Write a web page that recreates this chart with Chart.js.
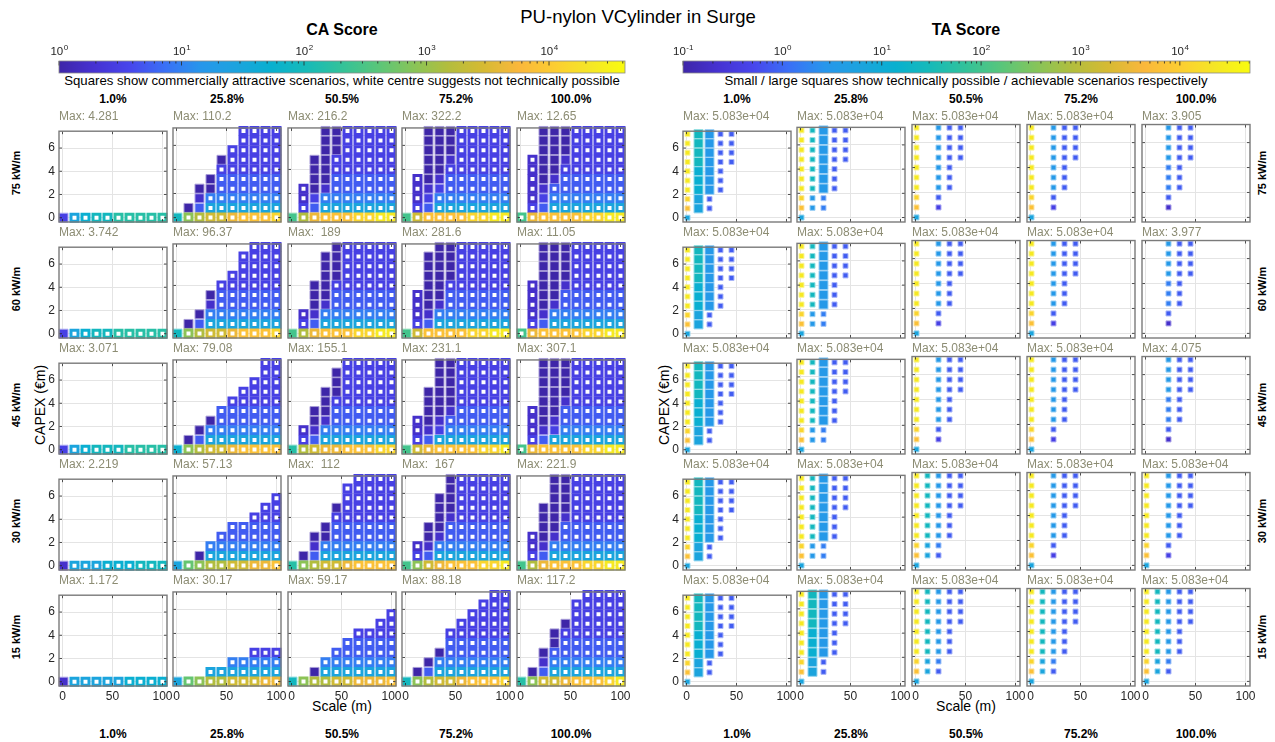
<!DOCTYPE html>
<html>
<head>
<meta charset="utf-8">
<title>PU-nylon VCylinder in Surge</title>
<script src="https://cdn.jsdelivr.net/npm/chart.js@4.4.1/dist/chart.umd.min.js"></script>
<style>
  html, body { margin: 0; padding: 0; background: #fff; }
  body { position: relative; width: 1275px; height: 742px; overflow: hidden;
         font-family: "Liberation Sans", Arial, Helvetica, sans-serif; color: #000; }
  canvas { position: absolute; }
  .lbl { position: absolute; white-space: pre; line-height: 1; }
</style>
</head>
<body>
<script>
// ── Data ────────────────────────────────────────────────────────────────
const figTitle = 'PU-nylon VCylinder in Surge';
const groupTitles = ['CA Score', 'TA Score'];
const captions = [
  'Squares show commercially attractive scenarios, white centre suggests not technically possible',
  'Small / large squares show technically possible / achievable scenarios respectively'
];
const shareLabels = ['1.0%', '25.8%', '50.5%', '75.2%', '100.0%'];
const powerLabels = ['75 kW/m', '60 kW/m', '45 kW/m', '30 kW/m', '15 kW/m'];
const scaleX = [1, 12, 23, 34, 45, 56, 67, 78, 89, 100];
const capexY = [0, 0.8, 1.6, 2.4, 3.2, 4.0, 4.8, 5.6, 6.4, 7.2];
const xTicks = [0, 50, 100];
const yTicks = [0, 2, 4, 6];
const caBarRange = [1, 41700];
const caBarDecades = [0, 1, 2, 3, 4];
const taBarRange = [0.1, 50830];
const taBarDecades = [-1, 0, 1, 2, 3, 4];

// "Max:" annotations, row by row (75 → 15 kW/m), column by column (1.0% → 100.0%)
const caMax = [
  '4.281', '110.2', '216.2', '322.2', '12.65',
  '3.742', '96.37', ' 189', '281.6', '11.05',
  '3.071', '79.08', '155.1', '231.1', '307.1',
  '2.219', '57.13', ' 112', ' 167', '221.9',
  '1.172', '30.17', '59.17', '88.18', '117.2'
];
const taMax = [
  '5.083e+04', '5.083e+04', '5.083e+04', '5.083e+04', '3.905',
  '5.083e+04', '5.083e+04', '5.083e+04', '5.083e+04', '3.977',
  '5.083e+04', '5.083e+04', '5.083e+04', '5.083e+04', '4.075',
  '5.083e+04', '5.083e+04', '5.083e+04', '5.083e+04', '5.083e+04',
  '5.083e+04', '5.083e+04', '5.083e+04', '5.083e+04', '5.083e+04'
];

// Cells: rows from CAPEX 7.2 (top) down to 0, separated by '|', one char per scale column.
// '.' none, letter a..t = colour level 0..19 on the colormap.
// CA: upper case = filled square, lower case = hollow square.
// TA: upper case = large square, lower case = small square.
const caCells = [
  '|||||||||Cghiijjjjj',
  '......cccc|......cccc|.....ccccc|....Accccc|....cccccc|...Adddddd|..AAdddddd|..Beeeeeee|.ADggggggg|Imnoopqqqr',
  '...AAccccc|...AAccccc|...AAccccc|..AAcccccc|..AAcccccc|..AAdddddd|.bABdddddd|.bCeeeeeee|.cDggggggg|Knpqqqrrss',
  '..AAAccccc|..AAAccccc|..AAAccccc|..AABccccc|..AAcccccc|.bABdddddd|.bBCdddddd|.bCeeeeeee|.cDggggggg|Koqqqqrrss',
  '..AAAccccc|..AAAccccc|..AAAccccc|.bAABccccc|.bAAcccccc|.bABdddddd|.bBddddddd|.bCeeeeeee|.cDggggggg|kpqqqqrrss',

  '|||||||||Cghiijjjjj',
  '.......ccc|......cccc|......cccc|.....ccccc|....cccccc|...Adddddd|...Bdddddd|..Aeeeeeee|.ADggggggg|Imnoopqqqr',
  '....Accccc|...AAccccc|...AAccccc|...AAccccc|..AAcccccc|..AAdddddd|..ABdddddd|.bBeeeeeee|.cDggggggg|Knpqqqrrss',
  '...AAccccc|..AAAccccc|..AAAccccc|..AAAccccc|..AAcccccc|.bAAdddddd|.bABdddddd|.bBeeeeeee|.cDggggggg|Koqqqqrrss',
  '..AAAccccc|..AAAccccc|..AAAccccc|..AAAccccc|.bAABccccc|.bAAdddddd|.bABdddddd|.bBeeeeeee|.cDggggggg|kpqqqqrrss',

  '|||||||||Cghiiijjjj',
  '........cc|........cc|.......ccc|......cccc|.....ccccc|....dddddd|...Adddddd|..Aeeeeeee|.ADggggggg|Hmnoopqqqq',
  '.....ccccc|....Accccc|....Accccc|...AAccccc|...Acccccc|..AAdddddd|..ABdddddd|.bBeeeeeee|.cDggggggg|Jnoppqqqrr',
  '...AAccccc|...AAccccc|...AAccccc|..AAAccccc|..AAAccccc|..AABddddd|.bABdddddd|.bBCeeeeee|.cDggggggg|Kopqqqqrrs',
  '..AAAccccc|..AAAccccc|..AAAccccc|..AAAccccc|..AABccccc|.bAAdddddd|.bABdddddd|.bBCeeeeee|.cDggggggg|kpqqqqrrss',

  '|||||||||Bggghhhiii',
  '||.........c|........cc|.......ccc|.....ddddd|....dddddd|...eeeeeee|..Aggggggg|Glmnnooppq',
  '......cccc|.....ccccc|.....ccccc|....Accccc|....cccccc|...Adddddd|..AAdddddd|..Beeeeeee|.ADggggggg|Jmnoopqqqq',
  '....Accccc|....Accccc|...AAccccc|...AAccccc|...ABccccc|..AAdddddd|..ABdddddd|.bBeeeeeee|.cDggggggg|Kmopqqqrrs',
  '...AAccccc|...AAccccc|...AAccccc|..AAAccccc|..AABccccc|..AAdddddd|.bABdddddd|.bBeeeeeee|.cDggggggg|Knpqqqrrss',

  '|||||||||Bggggghhhh',
  '||||||.......ccc|.....eeeee|...ggggggg|Glmnnooopp',
  '||.........c|........cc|......cccc|.....ddddd|....dddddd|...eeeeeee|..Aggggggg|Imnnoopppq',
  '........cc|.......ccc|......cccc|.....ccccc|....cccccc|....dddddd|...Adddddd|..Aeeeeeee|.ADggggggg|Imnoopqqqr',
  '......cccc|.....ccccc|.....ccccc|....Accccc|...Acccccc|...Adddddd|..Addddddd|..Beeeeeee|.ADggggggg|Jmoopqqqrs'
];
const taCells = [
  'sIFdd|sIFdd|sIFdd|sIFdd|sHFd|sHFd|sHFd|rGd|qGd|g',
  'siFdd|siFdd|siFdd|siFdd|siFd|siFd|siFd|rfe|qfe|g',
  's.fdd|s.fdd|s.fdd|s.fdd|s.fd|s.fd|s.fd|r.d|q.c|g',
  's.fdd|s.fdd|s.fdd|s.fdd|s.fd|s.fd|s.fd|r.d|q.c|g',
  '..fdd|..fdd|..fdd|..fdd|..ed|..ed|..ed|..d|..b|',

  'sIFdd|sIFdd|sIFdd|sIFdd|sHFd|sHFd|sHFd|rGd|qGd|g',
  'siFdd|siFdd|siFdd|siFdd|siFd|siFd|siFd|rfe|qfe|g',
  's.fdd|s.fdd|s.fdd|s.fdd|s.fd|s.fd|s.fd|r.d|q.c|g',
  's.fdd|s.fdd|s.fdd|s.fdd|s.fd|s.fd|s.fd|r.d|q.c|g',
  '..fdd|..fdd|..fdd|..fdd|..ed|..ed|..ed|..d|..b|',

  'sIFdd|sIFdd|sIFdd|sIFdd|sHFd|sHFd|sHFd|rGd|qGd|g',
  'siFdd|siFdd|siFdd|siFdd|siFd|siFd|siFd|rfe|qfe|g',
  's.fdd|s.fdd|s.fdd|s.fdd|s.fd|s.fd|s.fd|r.d|q.c|g',
  's.fdd|s.fdd|s.fdd|s.fdd|s.fd|s.fd|s.fd|r.d|q.c|g',
  '..fdd|..fdd|..fdd|..fdd|..ed|..ed|..ed|..d|..b|',

  'sIFdd|sIFdd|sIFdd|sIFdd|sHFd|sHFd|sHFd|rGd|qGd|g',
  'siFdd|siFdd|siFdd|siFdd|siFd|siFd|siFd|rfe|qfe|g',
  'sifdd|sifdd|sifdd|sifdd|sifd|sifd|sifd|rge|qgd|g',
  's.fdd|s.fdd|s.fdd|s.fdd|s.fd|s.fd|s.fd|r.d|q.c|g',
  's.fdd|s.fdd|s.fdd|s.fdd|s.fd|s.fd|s.fd|r.d|q.c|g',

  'sIFdd|sIFdd|sIFdd|sIFdd|sHFd|sHFd|sHFd|rGd|qGd|g',
  'sIFdd|sIFdd|sIFdd|sIFdd|sHFd|sHFd|sHFd|rGd|qGd|g',
  'sifdd|sifdd|sifdd|sifdd|sifd|sifd|sifd|rge|qgd|g',
  'sifdd|sifdd|sifdd|sifdd|sifd|sifd|sifd|rge|qgd|g',
  'sifdd|sifdd|sifdd|sifdd|sifd|sifd|sifd|rge|qgd|g'
];

// ── Layout & style ──────────────────────────────────────────────────────
const CA_LEFT = [59, 173, 288, 402, 517];
const TA_LEFT = [683, 797, 912, 1027, 1142];
const ROW_TOP = [124, 240, 356, 472, 588];
const PW = 108, PH = 98;
const PAD_L = 45, PAD_R = 14, PAD_T = 4, PAD_B = 24;
const GRID = '#e4e4e4', INK = '#262626';
const FONT = '"Liberation Sans", Arial, Helvetica, sans-serif';

// parula-like colormap
const PARULA = [
  [62, 38, 168], [70, 50, 210], [72, 70, 236], [58, 112, 246], [39, 150, 235],
  [28, 163, 222], [8, 176, 207], [23, 186, 184], [51, 194, 153], [89, 198, 122],
  [135, 196, 89], [179, 189, 61], [214, 186, 51], [250, 183, 60], [252, 205, 50],
  [245, 230, 38], [249, 251, 14]
];
function parula(t) {
  t = Math.min(1, Math.max(0, t)) * (PARULA.length - 1);
  const i = Math.min(PARULA.length - 2, Math.floor(t)), f = t - i;
  return PARULA[i].map((v, k) => Math.round(v + (PARULA[i + 1][k] - v) * f));
}
const rgb = c => `rgb(${c[0]},${c[1]},${c[2]})`;
const tint = (c, w) => c.map(v => Math.round(v + (255 - v) * w));

Chart.defaults.font.family = FONT;

// ── Helpers ───────────────────────────────────────────────────────────
function text(str, x, y, css, align = 'c', rot = 0) {
  const d = document.createElement('div');
  d.className = 'lbl';
  d.textContent = str;
  d.style.cssText += css;
  d.style.left = x + 'px';
  d.style.top = y + 'px';
  d.style.transform = `translate(${align === 'l' ? '0' : '-50%'}, -50%) rotate(${rot}deg)`;
  document.body.appendChild(d);
}

function markStyle(c, big, isTA) {
  const col = rgb(c), halo = rgb(tint(c, 0.55));
  if (isTA) return big ? { r: 9 / 1.4142, bg: col, bc: halo, bw: 1 }
                       : { r: 5 / 1.4142, bg: col, bc: halo, bw: 1 };
  return big ? { r: 9 / 1.4142, bg: col, bc: halo, bw: 1 }
             : { r: 7 / 1.4142, bg: '#ffffff', bc: col, bw: 3 };
}

function buildPoints(code, isTA) {
  const rows = code.split('|');
  const pts = [];
  rows.forEach((row, i) => {
    const yi = rows.length - 1 - i;
    [...row].forEach((ch, xi) => {
      if (ch === '.') return;
      const big = ch !== ch.toLowerCase();
      const c = parula((ch.toLowerCase().charCodeAt(0) - 97) / 19);
      pts.push(Object.assign({ x: scaleX[xi], y: capexY[yi] }, markStyle(c, big, isTA)));
    });
  });
  return pts;
}

const framePlugin = {
  id: 'frame',
  afterDatasetsDraw(chart) {
    const { ctx, chartArea: a, scales: { x, y } } = chart;
    ctx.save();
    ctx.strokeStyle = INK;
    ctx.lineWidth = 0.8;
    ctx.beginPath();
    xTicks.forEach(v => {
      const p = x.getPixelForValue(v);
      ctx.moveTo(p, a.bottom); ctx.lineTo(p, a.bottom - 3);
      ctx.moveTo(p, a.top); ctx.lineTo(p, a.top + 3);
    });
    yTicks.forEach(v => {
      const p = y.getPixelForValue(v);
      ctx.moveTo(a.left, p); ctx.lineTo(a.left + 3, p);
      ctx.moveTo(a.right, p); ctx.lineTo(a.right - 3, p);
    });
    ctx.stroke();
    ctx.strokeStyle = '#7a7a7a';
    ctx.lineWidth = 1.4;
    ctx.strokeRect(a.left, a.top, a.width, a.height);
    ctx.restore();
  }
};

function panel(left, top, pts, showY, showX) {
  const cv = document.createElement('canvas');
  cv.width = PAD_L + PW + PAD_R;
  cv.height = PAD_T + PH + PAD_B;
  cv.style.left = (left - PAD_L) + 'px';
  cv.style.top = (top - PAD_T) + 'px';
  document.body.appendChild(cv);
  const tickFont = { size: 12 };
  return new Chart(cv, {
    type: 'scatter',
    data: {
      datasets: [{
        data: pts, clip: false, pointStyle: 'rect',
        pointRadius: c => c.raw.r, pointHoverRadius: c => c.raw.r,
        pointBackgroundColor: c => c.raw.bg, pointBorderColor: c => c.raw.bc,
        pointBorderWidth: c => c.raw.bw
      }]
    },
    options: {
      responsive: false, animation: false, events: [], devicePixelRatio: 1,
      layout: { padding: { left: PAD_L - 40, right: PAD_R, top: PAD_T, bottom: 0 } },
      plugins: { legend: { display: false }, tooltip: { enabled: false } },
      scales: {
        x: {
          type: 'linear', min: -3.5, max: 104.5,
          afterBuildTicks: s => { s.ticks = xTicks.map(v => ({ value: v })); },
          afterFit: s => { s.height = PAD_B; },
          grid: { color: GRID, drawTicks: false }, border: { display: false },
          ticks: { display: showX, padding: 3, color: INK, font: tickFont, maxRotation: 0, autoSkip: false }
        },
        y: {
          type: 'linear', min: -0.37, max: 7.45,
          afterBuildTicks: s => { s.ticks = yTicks.map(v => ({ value: v })); },
          afterFit: s => { s.width = 40; },
          grid: { color: GRID, drawTicks: false }, border: { display: false },
          ticks: { display: showY, padding: 4, color: INK, font: tickFont, autoSkip: false }
        }
      }
    },
    plugins: [framePlugin]
  });
}

// colour bar: gradient, minor/major ticks and 10^n labels placed by the log scale
const cbarPlugin = {
  id: 'cbar',
  beforeDatasetsDraw(chart) {
    const { ctx, chartArea: a, scales: { x } } = chart;
    ctx.save();
    const g = ctx.createLinearGradient(a.left, 0, a.right, 0);
    for (let i = 0; i <= 32; i++) g.addColorStop(i / 32, rgb(parula(i / 32)));
    ctx.fillStyle = g;
    ctx.fillRect(a.left, a.top, a.width, a.height);
    ctx.strokeStyle = INK;
    ctx.lineWidth = 0.8;
    ctx.beginPath();
    const lo = Math.floor(Math.log10(x.min)), hi = Math.ceil(Math.log10(x.max));
    for (let d = lo; d < hi; d++) {
      for (let k = 1; k < 10; k++) {
        const v = k * Math.pow(10, d);
        if (v < x.min * 0.999 || v > x.max) continue;
        const p = x.getPixelForValue(v);
        ctx.moveTo(p, a.top);
        ctx.lineTo(p, a.top + (k === 1 ? 4.5 : 2.5));
      }
    }
    ctx.stroke();
    ctx.strokeStyle = '#8a8a8a';
    ctx.strokeRect(a.left, a.top, a.width, a.height);

    ctx.fillStyle = INK;
    ctx.textBaseline = 'alphabetic';
    ctx.textAlign = 'left';
    x.ticks.forEach(t => {
      const e = String(Math.round(Math.log10(t.value)));
      const p = x.getPixelForValue(t.value);
      ctx.font = '11.5px ' + FONT;
      const wb = ctx.measureText('10').width;
      ctx.font = '8px ' + FONT;
      const we = ctx.measureText(e).width;
      const x0 = p - (wb + we) / 2;
      ctx.font = '11.5px ' + FONT;
      ctx.fillText('10', x0, a.top - 6);
      ctx.font = '8px ' + FONT;
      ctx.fillText(e, x0 + wb + 0.5, a.top - 11);
    });
    ctx.restore();
  }
};

function colorbar(left, right, range, decades) {
  const cv = document.createElement('canvas');
  cv.width = right - left + 40;
  cv.height = 40;
  cv.style.left = (left - 20) + 'px';
  cv.style.top = '36px';
  document.body.appendChild(cv);
  new Chart(cv, {
    type: 'scatter',
    data: { datasets: [{ data: [] }] },
    options: {
      responsive: false, animation: false, events: [], devicePixelRatio: 1,
      layout: { padding: { left: 20, right: 20, top: 0, bottom: 3 } },
      plugins: { legend: { display: false }, tooltip: { enabled: false } },
      scales: {
        x: {
          type: 'logarithmic', position: 'top', min: range[0], max: range[1],
          afterBuildTicks: s => { s.ticks = decades.map(d => ({ value: Math.pow(10, d) })); },
          afterFit: s => { s.height = 25; },
          grid: { display: false }, border: { display: false },
          ticks: { display: false, autoSkip: false }
        },
        y: { display: false, min: 0, max: 1 }
      }
    },
    plugins: [cbarPlugin]
  });
}

// ── Build ─────────────────────────────────────────────────────────────
text(figTitle, 638, 17, 'font-size:18.5px');
[CA_LEFT, TA_LEFT].forEach((lefts, g) => {
  const mid = lefts[2] + PW / 2;
  text(groupTitles[g], mid, 30, 'font-size:16px;font-weight:bold');
  text(captions[g], mid, 80.5, 'font-size:13.2px');
  text('Scale (m)', mid, 706, 'font-size:14px');
  text('CAPEX (\u20ACm)', g === 0 ? 40 : 664, ROW_TOP[2] + PH / 2, 'font-size:14px', 'c', -90);
  shareLabels.forEach((s, j) => {
    text(s, lefts[j] + PW / 2, 99, 'font-size:12px;font-weight:bold');
    text(s, lefts[j] + PW / 2, 734, 'font-size:12px;font-weight:bold');
  });
});
colorbar(CA_LEFT[0], CA_LEFT[4] + PW, caBarRange, caBarDecades);
colorbar(TA_LEFT[0], TA_LEFT[4] + PW, taBarRange, taBarDecades);

powerLabels.forEach((lab, i) => {
  text(lab, 16, ROW_TOP[i] + PH / 2, 'font-size:11px;font-weight:bold', 'c', -90);
  text(lab, 1262, ROW_TOP[i] + PH / 2, 'font-size:11px;font-weight:bold', 'c', -90);
  for (let j = 0; j < 5; j++) {
    const k = i * 5 + j;
    const showX = i === 4, showY = j === 0;
    panel(CA_LEFT[j], ROW_TOP[i], buildPoints(caCells[k], false), showY, showX);
    panel(TA_LEFT[j], ROW_TOP[i], buildPoints(taCells[k], true), showY, showX);
    text('Max: ' + caMax[k], CA_LEFT[j], ROW_TOP[i] - 8, 'font-size:12px;color:#8c8c73', 'l');
    text('Max: ' + taMax[k], TA_LEFT[j], ROW_TOP[i] - 8, 'font-size:12px;color:#8c8c73', 'l');
  }
});
</script>
</body>
</html>
